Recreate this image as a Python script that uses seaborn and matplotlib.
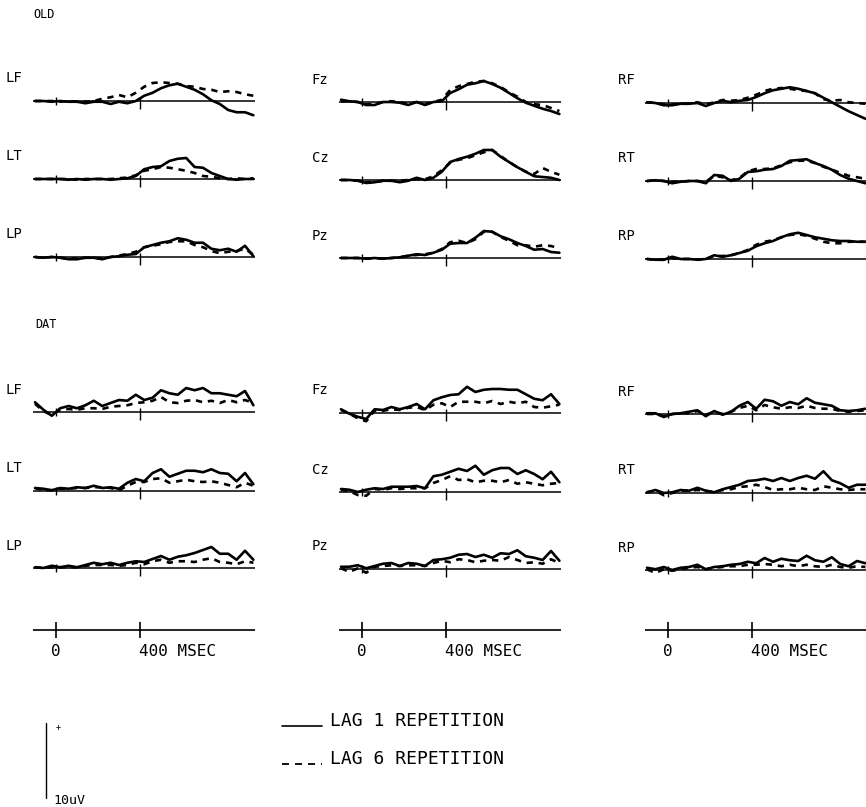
import matplotlib
matplotlib.use("Agg")
import matplotlib.pyplot as plt
import seaborn as sns
import pandas as pd

# ---------------- data (µV, positive up) ----------------
TIME_MS = [-100, -60, -20, 20, 60, 100, 140, 180, 220, 260, 300, 340, 380, 420,
           460, 500, 540, 580, 620, 660, 700, 740, 780, 820, 860, 900, 940]

SECTIONS = ["OLD", "DAT"]
CHANNELS = [["LF", "LT", "LP"], ["Fz", "Cz", "Pz"], ["RF", "RT", "RP"]]
CONDITIONS = ["LAG 1 REPETITION", "LAG 6 REPETITION"]
TICK_MS = [0, 400]
TICK_LABELS = ["0", "400 MSEC"]
CAL_LABEL = "10uV"
CAL_UV = 10

# OLD section
OLD_LF_LAG1 = [0, 0, -0.1, 0, -0.1, -0.1, -0.3, -0.1, -0.1, -0.4, -0.1, -0.3, 0, 0.7, 1.1, 1.7, 2.1, 2.3, 1.9, 1.5, 0.9, 0.1, -0.4, -1.2, -1.5, -1.5, -1.9]
OLD_LF_LAG6 = [0, 0, 0, -0.1, 0, -0.1, -0.1, 0, 0.3, 0.5, 0.8, 0.5, 1.1, 1.9, 2.4, 2.5, 2.4, 2.3, 2.0, 1.9, 1.6, 1.5, 1.2, 1.3, 1.2, 0.9, 0.7]
OLD_LT_LAG1 = [0, 0, 0, 0, -0.1, 0, -0.1, 0, 0, -0.1, 0, 0.1, 0.4, 1.3, 1.6, 1.7, 2.4, 2.7, 2.8, 1.6, 1.5, 0.8, 0.4, 0, -0.1, 0, 0]
OLD_LT_LAG6 = [0, 0, 0, 0, 0, -0.1, 0, 0, 0, 0, 0.1, 0.2, 0.5, 1.1, 1.3, 1.6, 1.5, 1.3, 1.1, 0.8, 0.4, 0.3, 0.1, 0, 0.1, 0, 0.1]
OLD_LP_LAG1 = [0, -0.1, 0, -0.1, -0.3, -0.3, -0.1, -0.1, -0.3, 0, 0.1, 0.3, 0.4, 1.3, 1.6, 1.9, 2.1, 2.5, 2.3, 1.9, 1.9, 1.1, 0.9, 1.1, 0.7, 1.5, 0.1]
OLD_LP_LAG6 = [0, -0.1, 0, -0.1, -0.2, -0.2, -0.1, -0.1, -0.2, 0, 0.2, 0.4, 0.7, 1.3, 1.5, 1.7, 2.0, 2.1, 2.1, 1.6, 1.3, 0.8, 0.5, 0.7, 0.8, 1.1, 0.3]
OLD_FZ_LAG1 = [0.3, 0.1, 0, -0.4, -0.4, 0, 0, -0.1, -0.4, 0, -0.4, 0, 0.1, 1.2, 1.7, 2.3, 2.5, 2.8, 2.4, 1.9, 1.2, 0.5, -0.1, -0.5, -0.9, -1.2, -1.6]
OLD_FZ_LAG6 = [0.1, 0.1, 0, -0.3, -0.3, 0, 0.1, 0, -0.3, 0, -0.3, 0, 0.3, 1.6, 2.1, 2.4, 2.7, 2.8, 2.5, 2.0, 1.3, 0.7, 0, -0.3, -0.4, -0.8, -1.2]
OLD_CZ_LAG1 = [0, 0, -0.1, -0.4, -0.3, -0.1, -0.1, -0.3, -0.1, 0.3, 0, 0.3, 1.1, 2.4, 2.8, 3.1, 3.5, 4.0, 4.0, 3.1, 2.4, 1.7, 1.1, 0.5, 0.4, 0.3, 0]
OLD_CZ_LAG6 = [0, 0, -0.1, -0.3, -0.3, -0.1, -0.1, -0.1, 0, 0.1, 0.1, 0.5, 1.3, 2.3, 2.7, 2.9, 3.3, 3.7, 4.0, 3.2, 2.4, 1.7, 1.1, 0.8, 1.6, 1.1, 0.7]
OLD_PZ_LAG1 = [0, 0, 0, -0.1, 0, -0.1, 0, 0.1, 0.3, 0.5, 0.4, 0.7, 1.1, 1.9, 2.0, 2.0, 2.7, 3.6, 3.5, 2.9, 2.5, 2.0, 1.6, 1.1, 1.2, 0.8, 0.7]
OLD_PZ_LAG6 = [0, 0, 0, -0.1, 0, -0.1, 0, 0.1, 0.3, 0.4, 0.5, 0.7, 1.2, 2.1, 2.3, 2.0, 2.5, 3.5, 3.5, 2.8, 2.3, 1.7, 1.7, 1.5, 1.7, 1.6, 1.3]
OLD_RF_LAG1 = [0.1, 0, -0.3, -0.3, -0.1, -0.1, 0, -0.4, 0, 0.3, 0.1, 0.3, 0.4, 0.8, 1.3, 1.7, 1.9, 2.1, 1.9, 1.6, 1.3, 0.7, 0.1, -0.5, -1.1, -1.6, -2.1]
OLD_RF_LAG6 = [0.1, 0, -0.2, -0.2, -0.1, -0.1, 0.1, -0.2, 0.1, 0.4, 0.3, 0.4, 0.7, 1.1, 1.6, 1.9, 2.0, 1.9, 1.7, 1.6, 1.3, 0.5, 0.3, 0.4, 0.1, 0, -0.1]
OLD_RT_LAG1 = [0, 0.1, 0, -0.3, -0.1, 0, 0, -0.3, 0.8, 0.7, 0, 0.3, 1.2, 1.3, 1.5, 1.6, 2.0, 2.7, 2.8, 2.9, 2.4, 2.0, 1.5, 0.8, 0.3, 0, -0.3]
OLD_RT_LAG6 = [0, 0.1, 0, -0.1, -0.1, 0, 0, -0.1, 0.7, 0.5, 0.1, 0.4, 1.3, 1.6, 1.6, 1.7, 2.1, 2.5, 2.7, 2.7, 2.4, 1.9, 1.5, 1.1, 0.7, 0.5, 0.3]
OLD_RP_LAG1 = [0, -0.1, -0.1, 0.3, 0, 0, -0.1, 0, 0.5, 0.3, 0.5, 0.8, 1.1, 1.7, 2.1, 2.4, 2.9, 3.3, 3.5, 3.2, 2.9, 2.7, 2.5, 2.4, 2.4, 2.3, 2.3]
OLD_RP_LAG6 = [0, -0.1, -0.1, 0.1, 0, 0, -0.1, 0, 0.4, 0.4, 0.5, 0.8, 1.2, 1.9, 2.3, 2.5, 2.9, 3.2, 3.3, 3.1, 2.7, 2.3, 2.1, 2.1, 2.3, 2.3, 2.3]

# DAT section
DAT_LF_LAG1 = [1.3, 0.3, -0.5, 0.5, 0.8, 0.5, 0.9, 1.5, 0.8, 1.2, 1.6, 1.5, 2.3, 1.6, 1.9, 2.9, 2.5, 2.3, 3.2, 2.9, 3.2, 2.5, 2.5, 2.3, 2.1, 2.8, 0.9]
DAT_LF_LAG6 = [1.1, 0.1, -0.4, 0.3, 0.4, 0.3, 0.5, 0.5, 0.4, 0.7, 0.8, 0.9, 1.2, 1.3, 1.5, 2.0, 1.3, 1.2, 1.5, 1.6, 1.3, 1.5, 1.2, 1.6, 1.3, 1.6, 1.2]
DAT_LT_LAG1 = [0.4, 0.3, 0.1, 0.4, 0.3, 0.5, 0.4, 0.7, 0.4, 0.5, 0.3, 1.1, 1.6, 1.3, 2.4, 2.9, 1.9, 2.3, 2.7, 2.7, 2.5, 2.9, 2.4, 2.3, 1.3, 2.4, 0.9]
DAT_LT_LAG6 = [0.4, 0.1, 0.1, 0.3, 0.3, 0.4, 0.4, 0.5, 0.5, 0.4, 0.1, 0.7, 1.2, 1.2, 1.6, 1.7, 1.1, 1.3, 1.5, 1.3, 1.2, 1.3, 1.1, 0.8, 0.5, 1.1, 0.7]
DAT_LP_LAG1 = [0.1, 0, 0.3, 0.1, 0.3, 0.1, 0.4, 0.7, 0.5, 0.7, 0.4, 0.7, 0.9, 0.8, 1.2, 1.6, 1.1, 1.5, 1.7, 2.0, 2.4, 2.8, 1.9, 1.9, 1.1, 2.3, 1.1]
DAT_LP_LAG6 = [0.1, 0, 0.1, 0.1, 0.1, 0.1, 0.3, 0.4, 0.4, 0.4, 0.3, 0.4, 0.7, 0.5, 0.9, 1.1, 0.7, 0.9, 0.9, 0.8, 1.1, 1.3, 0.8, 0.7, 0.5, 0.9, 0.7]
DAT_FZ_LAG1 = [0.5, -0.1, -0.5, -0.8, 0.5, 0.4, 0.8, 0.5, 0.8, 1.2, 0.5, 1.7, 2.1, 2.4, 2.5, 3.5, 2.8, 3.1, 3.2, 3.2, 3.1, 3.1, 2.5, 1.9, 1.7, 2.5, 1.2]
DAT_FZ_LAG6 = [0.4, -0.1, -0.7, -1.1, 0.3, 0.3, 0.5, 0.4, 0.7, 0.8, 0.4, 1.1, 1.3, 0.8, 1.5, 1.5, 1.5, 1.3, 1.6, 1.2, 1.5, 1.3, 1.5, 0.8, 0.7, 0.9, 1.1]
DAT_CZ_LAG1 = [0.4, 0.3, 0, 0.3, 0.5, 0.4, 0.7, 0.7, 0.7, 0.8, 0.5, 2.1, 2.3, 2.7, 3.1, 2.8, 3.5, 2.3, 2.9, 3.2, 3.2, 2.4, 2.9, 2.4, 1.7, 2.7, 1.3]
DAT_CZ_LAG6 = [0.3, 0.1, -0.4, -0.5, 0.4, 0.3, 0.5, 0.4, 0.5, 0.5, 0.5, 1.2, 1.6, 2.1, 1.6, 1.7, 1.3, 1.5, 1.5, 1.3, 1.6, 1.1, 1.3, 1.1, 0.9, 1.1, 1.2]
DAT_PZ_LAG1 = [0.3, 0.3, 0.5, 0.1, 0.4, 0.7, 0.8, 0.4, 0.8, 0.7, 0.4, 1.2, 1.3, 1.5, 1.9, 2.0, 1.6, 1.9, 1.5, 2.1, 2.0, 2.5, 1.7, 1.5, 1.2, 2.4, 1.1]
DAT_PZ_LAG6 = [0.1, -0.4, 0.1, -0.5, 0.3, 0.4, 0.5, 0.4, 0.5, 0.5, 0.4, 0.8, 1.1, 0.9, 1.3, 1.2, 0.9, 1.1, 1.2, 1.1, 1.6, 1.2, 0.8, 0.9, 0.7, 1.3, 0.8]
DAT_RF_LAG1 = [0.1, 0.1, -0.4, 0, 0.1, 0.3, 0.5, -0.3, 0.4, -0.1, 0.3, 1.1, 1.6, 0.7, 1.9, 1.7, 1.1, 1.6, 1.3, 2.1, 1.5, 1.3, 1.1, 0.5, 0.4, 0.5, 0.7]
DAT_RF_LAG6 = [0, 0, -0.3, 0, 0.1, 0.1, 0.4, -0.1, 0.3, 0, 0.3, 0.8, 1.1, 0.5, 1.2, 0.9, 0.7, 0.9, 0.8, 1.1, 0.8, 0.7, 0.7, 0.4, 0.3, 0.4, 0.5]
DAT_RT_LAG1 = [0.1, 0.4, 0, 0.1, 0.4, 0.3, 0.7, 0.3, 0.1, 0.5, 0.8, 1.1, 1.6, 1.7, 1.9, 1.6, 2.0, 1.6, 2.0, 2.3, 1.9, 2.9, 1.7, 1.3, 0.7, 1.1, 1.1]
DAT_RT_LAG6 = [0.1, 0.3, -0.3, 0, 0.3, 0.3, 0.4, 0.3, 0.1, 0.4, 0.5, 0.8, 0.9, 1.1, 0.8, 0.4, 0.5, 0.5, 0.7, 0.5, 0.4, 0.9, 0.7, 0.5, 0.4, 0.5, 0.5]
DAT_RP_LAG1 = [0.3, 0.1, 0.4, 0, 0.3, 0.4, 0.7, 0.1, 0.4, 0.5, 0.7, 0.8, 1.1, 0.9, 1.6, 1.1, 1.5, 1.3, 1.2, 1.9, 1.3, 1.1, 1.7, 0.8, 0.5, 1.2, 0.9]
DAT_RP_LAG6 = [0.1, -0.4, 0.1, -0.1, 0.1, 0.3, 0.4, 0.1, 0.3, 0.4, 0.5, 0.5, 0.7, 0.7, 0.8, 0.7, 0.5, 0.7, 0.5, 0.7, 0.5, 0.4, 0.7, 0.4, 0.3, 0.5, 0.4]

WAVES = {
    ("OLD", "LF"): (OLD_LF_LAG1, OLD_LF_LAG6), ("OLD", "LT"): (OLD_LT_LAG1, OLD_LT_LAG6),
    ("OLD", "LP"): (OLD_LP_LAG1, OLD_LP_LAG6), ("OLD", "Fz"): (OLD_FZ_LAG1, OLD_FZ_LAG6),
    ("OLD", "Cz"): (OLD_CZ_LAG1, OLD_CZ_LAG6), ("OLD", "Pz"): (OLD_PZ_LAG1, OLD_PZ_LAG6),
    ("OLD", "RF"): (OLD_RF_LAG1, OLD_RF_LAG6), ("OLD", "RT"): (OLD_RT_LAG1, OLD_RT_LAG6),
    ("OLD", "RP"): (OLD_RP_LAG1, OLD_RP_LAG6),
    ("DAT", "LF"): (DAT_LF_LAG1, DAT_LF_LAG6), ("DAT", "LT"): (DAT_LT_LAG1, DAT_LT_LAG6),
    ("DAT", "LP"): (DAT_LP_LAG1, DAT_LP_LAG6), ("DAT", "Fz"): (DAT_FZ_LAG1, DAT_FZ_LAG6),
    ("DAT", "Cz"): (DAT_CZ_LAG1, DAT_CZ_LAG6), ("DAT", "Pz"): (DAT_PZ_LAG1, DAT_PZ_LAG6),
    ("DAT", "RF"): (DAT_RF_LAG1, DAT_RF_LAG6), ("DAT", "RT"): (DAT_RT_LAG1, DAT_RT_LAG6),
    ("DAT", "RP"): (DAT_RP_LAG1, DAT_RP_LAG6),
}

# ---------------- layout (pixels) ----------------
W, H = 866, 807
PX_PER_MS = 0.21
PX_PER_UV = 7.5
EPOCH = (-110, 948)
T_LIM = (-140, 960)
V_LIM = (-3.5, 5.0)
COL_X0 = [56, 362, 668]
COL_DY = [0, 1, 2]
ROW_Y = {"OLD": [101, 179, 257], "DAT": [412, 491, 568]}
AXIS_ROW_Y = 630
TITLE_POS = {"OLD": (33, 15), "DAT": (35, 325)}

sns.set_style("white")
plt.rcParams["font.family"] = ["DejaVu Sans Mono", "DejaVu Sans"]
plt.rcParams["text.color"] = "black"

fig = plt.figure(figsize=(W / 100, H / 100), dpi=100)
fig.patch.set_facecolor("white")

DASH = {CONDITIONS[0]: "", CONDITIONS[1]: (2.4, 2.2)}


def add_panel(x0, yb):
    left = x0 + T_LIM[0] * PX_PER_MS
    width = (T_LIM[1] - T_LIM[0]) * PX_PER_MS
    top = yb - V_LIM[1] * PX_PER_UV
    height = (V_LIM[1] - V_LIM[0]) * PX_PER_UV
    ax = fig.add_axes([left / W, 1 - (top + height) / H, width / W, height / H])
    ax.set_xlim(*T_LIM)
    ax.set_ylim(*V_LIM)
    ax.set_axis_off()
    return ax


for sec in SECTIONS:
    for c, chans in enumerate(CHANNELS):
        for r, ch in enumerate(chans):
            yb = ROW_Y[sec][r] + COL_DY[c]
            ax = add_panel(COL_X0[c], yb)
            lag1, lag6 = WAVES[(sec, ch)]
            df = pd.DataFrame({
                "time": TIME_MS * 2,
                "uV": list(lag1) + list(lag6),
                "cond": [CONDITIONS[0]] * len(TIME_MS) + [CONDITIONS[1]] * len(TIME_MS),
            })
            # baseline and stimulus ticks
            ax.hlines(0, EPOCH[0], EPOCH[1], color="black", lw=1.1)
            ax.vlines(TICK_MS[0], -0.5, 0.5, color="black", lw=1.0)
            ax.vlines(TICK_MS[1], -1.1, 0.5, color="black", lw=1.0)
            sns.lineplot(data=df, x="time", y="uV", style="cond", dashes=DASH,
                         color="black", linewidth=1.9, estimator=None,
                         legend=False, ax=ax)
            ax.set_axis_off()
            ax.text(-240, 3.0, ch, fontsize=10, ha="left", va="center")

# time axis row
for c in range(3):
    ax = add_panel(COL_X0[c], AXIS_ROW_Y)
    ax.hlines(0, EPOCH[0], EPOCH[1], color="black", lw=1.2)
    ax.vlines(TICK_MS, -1.05, 1.05, color="black", lw=1.2)
    ax.text(TICK_MS[0], -2.8, TICK_LABELS[0], fontsize=11.5, ha="center", va="center")
    ax.text(TICK_MS[1] - 5, -2.8, TICK_LABELS[1], fontsize=11.5, ha="left", va="center")

# overlay for titles, legend and calibration
ov = fig.add_axes([0, 0, 1, 1])
ov.set_xlim(0, W)
ov.set_ylim(H, 0)
ov.set_axis_off()
for sec in SECTIONS:
    ov.text(*TITLE_POS[sec], sec, fontsize=8.5, ha="left", va="center")

ov.plot([282, 322], [726, 726], color="black", lw=1.2)
ov.plot([282, 322], [764, 764], color="black", lw=1.3, linestyle=(0, (3.9, 3.3)))
ov.text(330, 721, CONDITIONS[0], fontsize=13, ha="left", va="center")
ov.text(330, 759, CONDITIONS[1], fontsize=13, ha="left", va="center")

cal_top = 798 - CAL_UV * PX_PER_UV
ov.plot([46, 46], [cal_top, 798], color="black", lw=1.0)
ov.text(58, 727, "+", fontsize=6, ha="center", va="center")
ov.text(53, 800, CAL_LABEL, fontsize=9.5, ha="left", va="center")

fig.savefig("out.png", dpi=100, facecolor="white")
